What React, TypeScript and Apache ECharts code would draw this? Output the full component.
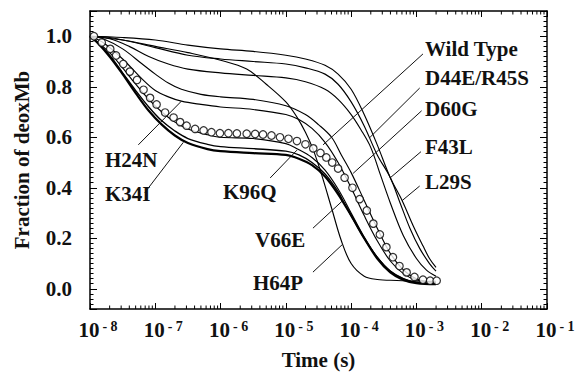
import React, { useEffect, useRef } from "react";
import * as echarts from "echarts";

// x values are log10(time / s); y values are fraction of deoxyMb
const WILD_TYPE: [number, number][] = [
  [-7.94, 1.0], [-7.82, 0.975], [-7.69, 0.95], [-7.6, 0.924], [-7.49, 0.89], [-7.39, 0.86],
  [-7.28, 0.827], [-7.18, 0.788], [-7.08, 0.756], [-6.98, 0.73], [-6.85, 0.698], [-6.72, 0.678],
  [-6.62, 0.66], [-6.52, 0.646], [-6.39, 0.633], [-6.26, 0.627], [-6.14, 0.62], [-6.01, 0.616],
  [-5.88, 0.616], [-5.75, 0.615], [-5.6, 0.614], [-5.47, 0.613], [-5.35, 0.611], [-5.22, 0.607],
  [-5.09, 0.6], [-4.96, 0.594], [-4.83, 0.585], [-4.7, 0.572], [-4.58, 0.556], [-4.47, 0.538],
  [-4.38, 0.52], [-4.29, 0.5], [-4.2, 0.476], [-4.1, 0.44], [-3.98, 0.4], [-3.87, 0.355],
  [-3.76, 0.31], [-3.66, 0.258], [-3.56, 0.215], [-3.46, 0.165], [-3.36, 0.125], [-3.26, 0.09],
  [-3.15, 0.065], [-3.03, 0.047], [-2.9, 0.036], [-2.79, 0.032], [-2.69, 0.032],
];

const L29S: [number, number][] = [
  [-8, 1.0], [-7.5, 0.995], [-7, 0.985], [-6.5, 0.965], [-6, 0.95], [-5.5, 0.94], [-5, 0.925],
  [-4.7, 0.91], [-4.4, 0.885], [-4.2, 0.85], [-4, 0.79], [-3.8, 0.69], [-3.6, 0.57], [-3.4, 0.44],
  [-3.22, 0.35], [-3.05, 0.25], [-2.9, 0.17], [-2.8, 0.12], [-2.7, 0.085],
];

const F43L: [number, number][] = [
  [-8, 1.0], [-7.7, 0.995], [-7.4, 0.98], [-7, 0.955], [-6.5, 0.925], [-6, 0.91], [-5.5, 0.9],
  [-5, 0.89], [-4.7, 0.875], [-4.4, 0.85], [-4.2, 0.81], [-4, 0.74], [-3.8, 0.645], [-3.6, 0.53],
  [-3.4, 0.44], [-3.25, 0.34], [-3.1, 0.24], [-2.95, 0.16], [-2.8, 0.1], [-2.7, 0.07],
];

const D44E_R45S: [number, number][] = [
  [-8, 1.0], [-7.7, 0.99], [-7.4, 0.96], [-7.1, 0.92], [-6.8, 0.89], [-6.5, 0.87], [-6, 0.855],
  [-5.5, 0.845], [-5, 0.835], [-4.7, 0.82], [-4.4, 0.79], [-4.2, 0.75], [-4, 0.69], [-3.85, 0.63],
  [-3.7, 0.56], [-3.55, 0.45], [-3.4, 0.34], [-3.2, 0.21], [-3.0, 0.12], [-2.85, 0.075], [-2.7, 0.05],
];

const D60G: [number, number][] = [
  [-8, 1.0], [-7.8, 0.99], [-7.5, 0.95], [-7.2, 0.89], [-7, 0.85], [-6.8, 0.815], [-6.6, 0.79],
  [-6.3, 0.77], [-6, 0.76], [-5.5, 0.75], [-5, 0.725], [-4.7, 0.69], [-4.5, 0.65], [-4.3, 0.6],
  [-4.15, 0.53], [-4.0, 0.46], [-3.8, 0.35], [-3.6, 0.24], [-3.4, 0.14], [-3.2, 0.075], [-3.0, 0.04],
  [-2.7, 0.025],
];

const H24N: [number, number][] = [
  [-8, 1.0], [-7.8, 0.975], [-7.5, 0.91], [-7.2, 0.83], [-7, 0.785], [-6.8, 0.76], [-6.6, 0.743],
  [-6.3, 0.73], [-6, 0.72], [-5.5, 0.71], [-5, 0.69], [-4.8, 0.67], [-4.6, 0.635], [-4.4, 0.58],
  [-4.2, 0.5], [-4.0, 0.4], [-3.8, 0.29], [-3.6, 0.19], [-3.4, 0.11], [-3.2, 0.06], [-3.0, 0.035],
  [-2.7, 0.025],
];

const K96Q: [number, number][] = [
  [-8, 1.0], [-7.9, 0.98], [-7.7, 0.935], [-7.5, 0.875], [-7.3, 0.81], [-7.1, 0.75], [-6.9, 0.7],
  [-6.7, 0.66], [-6.5, 0.633], [-6.2, 0.61], [-6, 0.6], [-5.5, 0.595], [-5, 0.575], [-4.83, 0.555],
  [-4.6, 0.52], [-4.4, 0.47], [-4.2, 0.395], [-4.0, 0.3], [-3.8, 0.205], [-3.6, 0.125], [-3.4, 0.07],
  [-3.2, 0.04], [-3.0, 0.025], [-2.7, 0.02],
];

const V66E: [number, number][] = [
  [-8, 1.0], [-7.9, 0.978], [-7.7, 0.925], [-7.5, 0.855], [-7.3, 0.785], [-7.1, 0.72], [-6.9, 0.665],
  [-6.7, 0.625], [-6.5, 0.595], [-6.2, 0.572], [-6, 0.563], [-5.5, 0.555], [-5, 0.545], [-4.8, 0.53],
  [-4.6, 0.5], [-4.4, 0.455], [-4.2, 0.385], [-4.13, 0.35], [-4.0, 0.29], [-3.8, 0.2], [-3.6, 0.125],
  [-3.4, 0.07], [-3.2, 0.04], [-3.0, 0.025], [-2.7, 0.02],
];

const K34I: [number, number][] = [
  [-8, 1.0], [-7.9, 0.978], [-7.7, 0.92], [-7.5, 0.85], [-7.3, 0.775], [-7.1, 0.705], [-6.9, 0.65],
  [-6.7, 0.607], [-6.5, 0.577], [-6.2, 0.553], [-6, 0.545], [-5.5, 0.537], [-5, 0.53], [-4.8, 0.515],
  [-4.6, 0.49], [-4.4, 0.445], [-4.2, 0.375], [-4.0, 0.29], [-3.8, 0.2], [-3.6, 0.12], [-3.4, 0.065],
  [-3.2, 0.035], [-3.0, 0.022], [-2.7, 0.018],
];

const H64P: [number, number][] = [
  [-8, 1.0], [-7.5, 0.985], [-7, 0.96], [-6.5, 0.935], [-6, 0.905], [-5.6, 0.87], [-5.3, 0.81],
  [-5, 0.74], [-4.83, 0.68], [-4.7, 0.62], [-4.58, 0.55], [-4.45, 0.45], [-4.3, 0.32], [-4.15, 0.19],
  [-4.0, 0.1], [-3.8, 0.05], [-3.6, 0.037], [-3.3, 0.033], [-3.0, 0.03], [-2.7, 0.03],
];

const X_EXPONENTS = [-8, -7, -6, -5, -4, -3, -2, -1];

const FONT = '"Liberation Serif", "Times New Roman", serif';

export default function App() {
  const ref = useRef<HTMLDivElement>(null);

  useEffect(() => {
    if (!ref.current) return;
    const chart = echarts.init(ref.current, null, { renderer: "svg" });

    const minorX: number[] = [];
    for (let n = X_EXPONENTS[0]; n < X_EXPONENTS[X_EXPONENTS.length - 1]; n++) {
      for (let k = 2; k <= 9; k++) minorX.push(n + Math.log10(k));
    }

    // leader lines in data coordinates [from, to]
    const leaders: [number, number][][] = [
      [[-2.9, 0.93], [-4.43, 0.57]],
      [[-2.95, 0.795], [-3.71, 0.6]],
      [[-2.92, 0.705], [-3.97, 0.457]],
      [[-2.93, 0.543], [-3.39, 0.442]],
      [[-2.95, 0.407], [-3.22, 0.349]],
      [[-7.26, 0.57], [-6.6, 0.743]],
      [[-7.16, 0.381], [-6.57, 0.58]],
      [[-5.24, 0.439], [-4.83, 0.549]],
      [[-4.585, 0.24], [-4.13, 0.349]],
      [[-4.585, 0.066], [-4.14, 0.174]],
    ];

    const texts: { t: string; x: number; y: number }[] = [
      { t: "Wild Type", x: 425, y: 49 },
      { t: "D44E/R45S", x: 425, y: 78 },
      { t: "D60G", x: 425, y: 109 },
      { t: "F43L", x: 425, y: 147 },
      { t: "L29S", x: 425, y: 182 },
      { t: "H24N", x: 105, y: 160 },
      { t: "K34I", x: 105, y: 194 },
      { t: "K96Q", x: 223, y: 192 },
      { t: "V66E", x: 255, y: 240 },
      { t: "H64P", x: 253, y: 283 },
    ];

    const lineSeries = (name: string, data: [number, number][], width = 1.15) => ({
      name,
      type: "line",
      data,
      smooth: 0.35,
      showSymbol: false,
      symbol: "none",
      lineStyle: { color: "#000", width },
      z: 3,
    });

    const axisLine = { show: true, onZero: false, lineStyle: { color: "#000", width: 1.5 } };

    chart.setOption({
      animation: false,
      backgroundColor: "#fff",
      grid: { left: 90, right: 31, top: 11, bottom: 59 },
      xAxis: [
        {
          type: "value",
          min: -8,
          max: -1,
          interval: 1,
          position: "bottom",
          axisLine,
          splitLine: { show: false },
          axisTick: { show: true, inside: true, length: 6, lineStyle: { color: "#000", width: 1 } },
          axisLabel: {
            margin: 10,
            formatter: (v: number) => `{b|10}{s|- ${Math.abs(Math.round(v))}}`,
            rich: {
              b: { fontFamily: FONT, fontWeight: "bold", fontSize: 21, color: "#111", padding: [0, 0, 0, 16] },
              s: { fontFamily: FONT, fontWeight: "bold", fontSize: 14, color: "#111", verticalAlign: "top", padding: [0, 0, 8, 3] },
            },
          },
          name: "Time (s)",
          nameLocation: "middle",
          nameGap: 40,
          nameTextStyle: { fontFamily: FONT, fontWeight: "bold", fontSize: 21, color: "#111" },
        },
        {
          type: "value",
          min: -8,
          max: -1,
          interval: 1,
          position: "top",
          axisLine,
          splitLine: { show: false },
          axisTick: { show: true, inside: true, length: 6, lineStyle: { color: "#000", width: 1 } },
          axisLabel: { show: false },
        },
      ],
      yAxis: [
        {
          type: "value",
          min: -0.08,
          max: 1.1,
          splitNumber: 5,
          position: "left",
          axisLine,
          splitLine: { show: false },
          axisTick: { show: true, inside: true, length: 7, lineStyle: { color: "#000", width: 1 } },
          minorTick: { show: true, splitNumber: 10, length: 3.5, lineStyle: { color: "#000", width: 1 } },
          axisLabel: {
            margin: 18,
            showMinLabel: false,
            showMaxLabel: false,
            formatter: (v: number) => (Math.abs(v) < 1e-9 ? "0.0" : v.toFixed(1)),
            fontFamily: FONT,
            fontWeight: "bold",
            fontSize: 21,
            color: "#111",
          },
          name: "Fraction of deoxMb",
          nameLocation: "middle",
          nameGap: 58,
          nameTextStyle: { fontFamily: FONT, fontWeight: "bold", fontSize: 21, color: "#111" },
        },
        {
          type: "value",
          min: -0.08,
          max: 1.1,
          splitNumber: 5,
          position: "right",
          axisLine,
          splitLine: { show: false },
          axisTick: { show: true, inside: true, length: 7, lineStyle: { color: "#000", width: 1 } },
          minorTick: { show: true, splitNumber: 10, length: 3.5, lineStyle: { color: "#000", width: 1 } },
          axisLabel: { show: false },
        },
      ],
      series: [
        {
          ...lineSeries("L29S", L29S),
          markLine: {
            silent: true,
            symbol: ["none", "none"],
            label: { show: false },
            lineStyle: { color: "#111", width: 1, type: "solid" },
            data: leaders.map(([a, b]) => [{ coord: a }, { coord: b }]),
          },
        },
        lineSeries("F43L", F43L),
        lineSeries("D44E/R45S", D44E_R45S),
        lineSeries("D60G", D60G),
        lineSeries("H24N", H24N),
        lineSeries("K96Q", K96Q),
        lineSeries("V66E", V66E, 1.4),
        lineSeries("K34I", K34I, 2.2),
        lineSeries("H64P", H64P),
        {
          name: "Wild Type",
          type: "scatter",
          data: WILD_TYPE,
          symbol: "circle",
          symbolSize: 7.5,
          itemStyle: { color: "#fff", borderColor: "#000", borderWidth: 1.2 },
          z: 5,
        },
        {
          name: "minor-x-ticks",
          type: "custom",
          silent: true,
          data: minorX.map((x) => [x, 0]),
          encode: { x: 0, y: 1 },
          renderItem: (params: any, api: any) => {
            const cs = params.coordSys;
            const px = api.coord([api.value(0), 0])[0];
            const bottom = cs.y + cs.height;
            const top = cs.y;
            return {
              type: "group",
              children: [
                { type: "line", shape: { x1: px, y1: bottom, x2: px, y2: bottom - 3.5 }, style: { stroke: "#000", lineWidth: 1 } },
                { type: "line", shape: { x1: px, y1: top, x2: px, y2: top + 3.5 }, style: { stroke: "#000", lineWidth: 1 } },
              ],
            };
          },
          z: 2,
        },
      ],
      graphic: texts.map((d) => ({
        type: "text",
        x: d.x,
        y: d.y,
        z: 10,
        style: {
          text: d.t,
          fill: "#111",
          font: `bold 21px ${FONT}`,
          align: "left",
          verticalAlign: "middle",
        },
      })),
    });

    return () => chart.dispose();
  }, []);

  return (
    <div
      ref={ref}
      style={{ position: "fixed", left: 0, top: 0, width: 578, height: 375, background: "#fff" }}
    />
  );
}
